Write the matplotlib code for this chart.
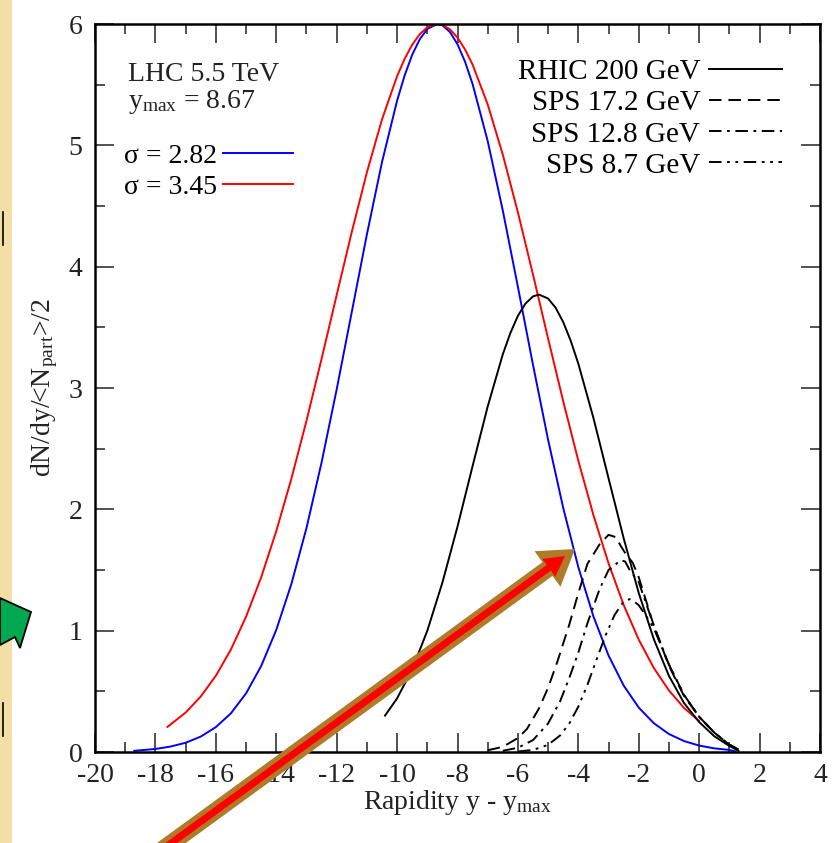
import numpy as np
import matplotlib
matplotlib.use("Agg")
from matplotlib import pyplot as plt
from matplotlib.patches import FancyArrow, Polygon, Rectangle
from matplotlib.ticker import MultipleLocator

plt.rcParams['font.family'] = ['Liberation Serif', 'DejaVu Serif']
plt.rcParams['mathtext.fontset'] = 'custom'
plt.rcParams['mathtext.rm'] = 'Liberation Serif'
plt.rcParams['mathtext.it'] = 'Liberation Serif:italic'
plt.rcParams['lines.scale_dashes'] = False
plt.rcParams['axes.unicode_minus'] = False

# LHC 5.5 TeV, sigma = 2.82 (blue)
x_lhc1 = [-18.7, -18.5, -18.0, -17.5, -17.0, -16.5, -16.0, -15.5, -15.0, -14.5, -14.0,
          -13.5, -13.0, -12.5, -12.0, -11.5, -11.0, -10.5, -10.0, -9.75, -9.5, -9.25,
          -9.0, -8.67, -8.5, -8.25, -8.0, -7.75, -7.5, -7.0, -6.5, -6.0, -5.5, -5.0,
          -4.5, -4.0, -3.5, -3.0, -2.5, -2.0, -1.5, -1.0, -0.5, 0.0, 0.5, 1.0, 1.2]
y_lhc1 = [0.010, 0.014, 0.025, 0.045, 0.076, 0.127, 0.205, 0.319, 0.483, 0.708, 1.006,
          1.384, 1.845, 2.386, 2.988, 3.626, 4.265, 4.861, 5.368, 5.576, 5.746, 5.874,
          5.959, 6.0, 5.989, 5.934, 5.833, 5.689, 5.505, 5.035, 4.462, 3.833, 3.190, 2.572,
          2.011, 1.523, 1.117, 0.795, 0.548, 0.366, 0.237, 0.148, 0.090, 0.053, 0.030, 0.017, 0.005]

# LHC 5.5 TeV, sigma = 3.45 (red)
x_lhc2 = [-17.6, -17.5, -17.0, -16.5, -16.0, -15.5, -15.0, -14.5, -14.0, -13.5, -13.0,
          -12.5, -12.0, -11.5, -11.0, -10.5, -10.0, -9.75, -9.5, -9.25, -9.0, -8.67,
          -8.5, -8.25, -8.0, -7.75, -7.5, -7.0, -6.5, -6.0, -5.5, -5.0, -4.5, -4.0,
          -3.5, -3.0, -2.5, -2.0, -1.5, -1.0, -0.5, 0.0]
y_lhc2 = [0.207, 0.227, 0.325, 0.457, 0.628, 0.845, 1.115, 1.439, 1.820, 2.252, 2.729,
          3.240, 3.766, 4.286, 4.777, 5.213, 5.570, 5.713, 5.829, 5.916, 5.973, 6.0,
          5.993, 5.956, 5.888, 5.790, 5.665, 5.337, 4.923, 4.447, 3.934, 3.407, 2.890, 2.400,
          1.952, 1.555, 1.212, 0.926, 0.692, 0.507, 0.363, 0.255]

# RHIC 200 GeV
x_rhic = [-10.4, -10.0, -9.5, -9.0, -8.5, -8.0, -7.5, -7.0, -6.5, -6.25, -6.0, -5.75,
          -5.5, -5.3, -5.0, -4.75, -4.5, -4.25, -4.0, -3.5, -3.0, -2.5, -2.0, -1.5,
          -1.0, -0.5, 0.0, 0.5, 1.0, 1.3]
y_rhic = [0.30, 0.442, 0.681, 0.999, 1.396, 1.858, 2.357, 2.848, 3.278, 3.453, 3.595, 3.696,
          3.755, 3.77, 3.737, 3.661, 3.543, 3.388, 3.200, 2.753, 2.256, 1.762, 1.310, 0.929,
          0.627, 0.403, 0.247, 0.13, 0.05, 0.01]

# SPS 17.2 GeV
x_sps17 = [-7.0, -6.5, -6.0, -5.7, -5.3, -5.0, -4.7, -4.3, -4.0, -3.7, -3.3, -3.0,
           -2.75, -2.6, -2.45, -2.2, -2.0, -1.5, -1.0, -0.5, 0.0, 0.5, 1.0, 1.3]
y_sps17 = [0.014, 0.043, 0.115, 0.19, 0.36, 0.53, 0.74, 1.05, 1.31, 1.55, 1.71, 1.79,
           1.77, 1.70, 1.64, 1.56, 1.44, 1.04, 0.71, 0.46, 0.29, 0.16, 0.06, 0.02]

# SPS 12.8 GeV
x_sps12 = [-6.5, -6.0, -5.5, -5.0, -4.6, -4.3, -4.0, -3.7, -3.3, -3.0, -2.6, -2.45,
           -2.3, -2.0, -1.5, -1.0, -0.5, 0.0, 0.5, 1.0, 1.3]
y_sps12 = [0.01, 0.035, 0.098, 0.236, 0.42, 0.61, 0.82, 1.06, 1.34, 1.50, 1.58, 1.57,
           1.50, 1.40, 1.04, 0.72, 0.47, 0.29, 0.16, 0.06, 0.02]

# SPS 8.7 GeV
x_sps8 = [-6.0, -5.5, -5.0, -4.6, -4.3, -4.0, -3.7, -3.4, -3.1, -2.8, -2.5, -2.3,
          -2.15, -2.0, -1.7, -1.5, -1.0, -0.5, 0.0, 0.5, 1.0, 1.3]
y_sps8 = [0.004, 0.017, 0.059, 0.137, 0.235, 0.374, 0.553, 0.76, 0.96, 1.13, 1.24, 1.26,
          1.24, 1.21, 1.10, 1.02, 0.72, 0.47, 0.29, 0.16, 0.06, 0.02]

lhc_labels = ['\u03c3 = 2.82', '\u03c3 = 3.45']
sps_labels = ['RHIC 200 GeV', 'SPS 17.2 GeV', 'SPS 12.8 GeV', 'SPS 8.7 GeV']

fig = plt.figure(figsize=(8.36, 8.43), dpi=100)
ax = fig.add_axes([95 / 836, 91 / 843, 725 / 836, 728 / 843])

lw = 1.4
l1, = ax.plot(x_lhc1, y_lhc1, color='#0000ff', lw=lw)
l2, = ax.plot(x_lhc2, y_lhc2, color='#ff0000', lw=lw)
k1, = ax.plot(x_rhic, y_rhic, color='black', lw=lw)
k2, = ax.plot(x_sps17, y_sps17, color='black', lw=lw, dashes=(9, 5))
k3, = ax.plot(x_sps12, y_sps12, color='black', lw=lw, dashes=(9, 4, 2, 4))
k4, = ax.plot(x_sps8, y_sps8, color='black', lw=lw, dashes=(9, 4, 2, 4, 2, 4))

ax.set_xlim(-20, 4)
ax.set_ylim(0, 6)
ax.xaxis.set_major_locator(MultipleLocator(2))
ax.xaxis.set_minor_locator(MultipleLocator(1))
ax.yaxis.set_major_locator(MultipleLocator(1))
ax.yaxis.set_minor_locator(MultipleLocator(0.5))
ax.tick_params(which='both', direction='in', top=True, right=True, labelsize=20,
               colors='#222222')
ax.tick_params(which='major', length=14, width=1.1)
ax.tick_params(axis='x', which='major', pad=8)
ax.tick_params(axis='y', which='major', pad=9)
ax.tick_params(which='minor', length=7, width=1.1)
for s in ax.spines.values():
    s.set_linewidth(1.8)

ax.set_xlabel(r'Rapidity y - y$_{\mathrm{max}}$', fontsize=20, color='#222222', labelpad=0)
ax.set_ylabel(r'dN/dy/<N$_{\mathrm{part}}$>/2', fontsize=20, color='#222222', labelpad=6)

ax.text(0.045, 0.930, 'LHC 5.5 TeV', transform=ax.transAxes, fontsize=20,
        va='center', ha='left', color='#222222')
ax.text(0.045, 0.893, r'y$_{\mathrm{max}}$ = 8.67', transform=ax.transAxes, fontsize=20,
        va='center', ha='left', color='#222222')

leg1 = ax.legend([l1, l2], lhc_labels, loc='upper left', bbox_to_anchor=(0.040, 0.836),
                 frameon=False, markerfirst=False, fontsize=20, handlelength=2.55,
                 handletextpad=0.2, labelspacing=0.2, borderpad=0, borderaxespad=0)
ax.add_artist(leg1)
ax.legend([k1, k2, k3, k4], sps_labels, loc='upper right', bbox_to_anchor=(0.9476, 0.952),
          frameon=False, markerfirst=False, fontsize=21, handlelength=2.5,
          handletextpad=0.3, labelspacing=0.16, borderpad=0, borderaxespad=0)

# overlay decorations in pixel coordinates
ov = fig.add_axes([0, 0, 1, 1], zorder=10)
ov.set_xlim(0, 836)
ov.set_ylim(843, 0)
ov.axis('off')
ov.patch.set_alpha(0)

ov.add_patch(Rectangle((0, 0), 12, 843, color='#f3dfa6', lw=0))
ov.plot([3, 3], [212, 245], color='black', lw=1.2)
ov.plot([3, 3], [703, 736], color='black', lw=1.2)
ov.add_patch(Polygon([(0, 598), (31, 612), (20, 648), (15, 637), (0, 645)],
                     closed=True, facecolor='#00a850', edgecolor='black', lw=1.3))

ov.add_patch(FancyArrow(148, 860, 427, -311, width=17, head_width=44, head_length=34,
                        length_includes_head=True, facecolor='#b07a28', edgecolor='none'))
ov.add_patch(FancyArrow(148, 860, 417, -304, width=7, head_width=22, head_length=20,
                        length_includes_head=True, facecolor='#ff0000', edgecolor='none'))

fig.savefig('out.png', dpi=100)
